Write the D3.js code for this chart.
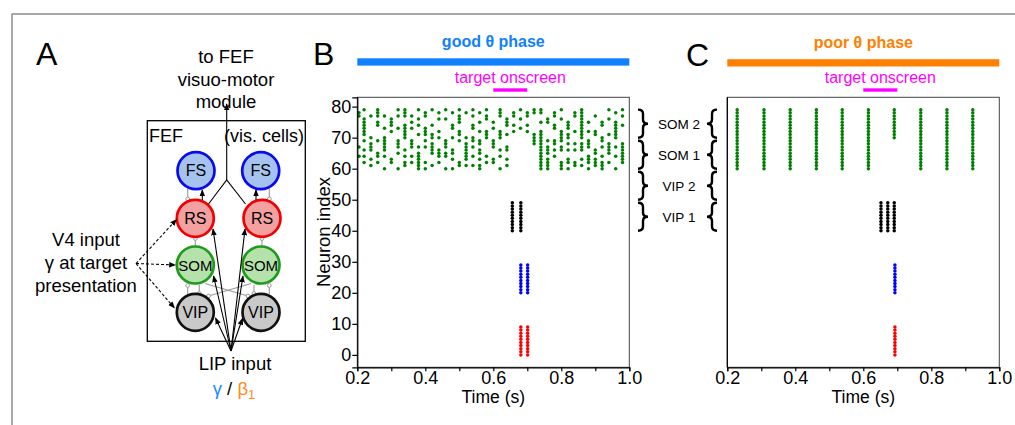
<!DOCTYPE html>
<html><head><meta charset="utf-8">
<script src="https://cdn.jsdelivr.net/npm/d3@7"></script>
<style>
body{margin:0;background:#fff}
svg{display:block}
text{font-family:"Liberation Sans",Arial,sans-serif}
</style>
</head><body>
<svg id="fig" width="1015" height="425"></svg>
<script>
// ---------------- DATA ----------------
const timeDomain = [0.2, 1.0];
const neuronDomain = [-4, 83];
const xTicks = [0.2, 0.3, 0.4, 0.5, 0.6, 0.7, 0.8, 0.9, 1.0];
const xTickLabels = ["0.2", "", "0.4", "", "0.6", "", "0.8", "", "1.0"];
const yTicks = [0, 10, 20, 30, 40, 50, 60, 70, 80];
const yTickLabels = ["0", "10", "20", "30", "40", "50", "60", "70", "80"];
const targetOn = [0.6, 0.7];

// panel B (good theta phase): SOM spikes, one column per time, cells as ranges
const somGoodTimes = [0.205, 0.22, 0.24, 0.26, 0.28, 0.30, 0.32, 0.34, 0.36, 0.38,
  0.40, 0.42, 0.44, 0.46, 0.48, 0.50, 0.52, 0.54, 0.56, 0.58,
  0.60, 0.62, 0.64, 0.66, 0.68, 0.70, 0.72, 0.74, 0.76, 0.78,
  0.80, 0.82, 0.84, 0.86, 0.88, 0.90, 0.92, 0.94, 0.96, 0.98];
const somGoodCells = [
  "78-77 67 64", "79 76-71 69 66 64 62", "77 70 68-66 63 61", "79-77 75-74 69 65-64 62",
  "77 73 70-66 64 60", "76-74 72 63-62", "79 77 73 69-67 65 60", "79-77 74-70 66 64 62-61",
  "77 75 73 69-67 64 62", "79 76 74 71 67 65-60", "78-77 73-71 69 67 62 60", "79 74 71-70 68-65 61",
  "78 76 72 70 66-64 62", "79 76 69-67 65-64 60", "78 74-73 70 66-65 63 60", "79 77-75 72-71 69 62-61",
  "78 70 68-63 61", "79 77 74-73 70-69 67 64 61", "78 75 72 69-68 66-65 63 61-60", "79 77-76 72-70 64 62",
  "75 73 69-67 63-62", "79-77 72-70 66 64 60", "76-74 71 67-66 63 61", "78-77 74 72",
  "79 76 73", "78-77 74 72", "79-78 71-68", "79-78 75 72-60",
  "76-75 69 67-65 63-60", "78-77 74-73 69-68 66 64", "79 76 72-69 67-66 62-60", "75-73 71-70 68 66 63-62 60",
  "78-77 72 68 66 62-61", "79-70 68-66 63 61", "75 72 69-67 64-62 60", "77 72-71 66-65 63-61",
  "75-74 70-69 67 64 62-60", "79 76 71 68-65 62", "78 75-70 67 64 60", "79 77 74 68-62"
];
const vipGoodTimes = [0.656, 0.681];
const fsGoodTimes = [0.681, 0.701];
const rsGoodTimes = [0.681, 0.701];

// panel C (poor theta phase)
const somPoorTimes = [0.229, 0.308, 0.385, 0.462, 0.538, 0.615, 0.691, 0.769, 0.846, 0.922];
const somPoorCells = ["79-60", "79-60", "79-60", "79-60", "79-60", "79-60", "79-70", "79-60", "79-60", "79-60"];
const vipPoorTimes = [0.652, 0.672, 0.691];
const fsPoorTimes = [0.693];
const rsPoorTimes = [0.693];

const vipCells = "49-40";
const fsCells = "29-20";
const rsCells = "9-0";

const groupLabels = ["SOM 2", "SOM 1", "VIP 2", "VIP 1"];
const groupRanges = [[70, 79], [60, 69], [50, 59], [40, 49]];

// ---------------- DRAW ----------------
const svg = d3.select("#fig");
const FONT = '"Liberation Sans",Arial,sans-serif';

function cells(spec) {
  const out = [];
  spec.split(" ").forEach(tok => {
    const p = tok.split("-").map(Number);
    if (p.length === 1) out.push(p[0]);
    else for (let n = Math.min(p[0], p[1]); n <= Math.max(p[0], p[1]); n++) out.push(n);
  });
  return out;
}

// outer frame
svg.append("path").attr("d", "M12,425 L12,14 L1015,14")
  .attr("fill", "none").attr("stroke", "#8c8c8c").attr("stroke-width", 1.5);

// markers
const defs = svg.append("defs");
defs.append("marker").attr("id", "arr").attr("viewBox", "0 0 10 10")
  .attr("refX", 9).attr("refY", 5).attr("markerWidth", 7).attr("markerHeight", 7)
  .attr("markerUnits", "userSpaceOnUse").attr("orient", "auto")
  .append("path").attr("d", "M0,1 L10,5 L0,9 Z").attr("fill", "#000");

// panel letters
[["A", 36, 65], ["B", 313, 65], ["C", 686, 66]].forEach(([t, x, y]) => {
  svg.append("text").attr("x", x).attr("y", y).attr("font-size", 32).text(t);
});

// ---------- Panel A diagram ----------
const A = svg.append("g");
const fs18 = 18.5;
[["to FEF", 63], ["visuo-motor", 85.5], ["module", 107.5]].forEach(([t, y]) =>
  A.append("text").attr("x", 226).attr("y", y).attr("text-anchor", "middle").attr("font-size", fs18).text(t));
[["V4 input", 246], ["γ at target", 269], ["presentation", 291.5]].forEach(([t, y]) =>
  A.append("text").attr("x", 86).attr("y", y).attr("text-anchor", "middle").attr("font-size", fs18).text(t));
A.append("text").attr("x", 235).attr("y", 370).attr("text-anchor", "middle").attr("font-size", fs18).text("LIP input");
const gb = A.append("text").attr("x", 234).attr("y", 395).attr("text-anchor", "middle").attr("font-size", fs18);
gb.append("tspan").attr("fill", "#1a8cff").text("γ");
gb.append("tspan").attr("fill", "#000").text(" / ");
gb.append("tspan").attr("fill", "#ff8c1a").text("β");
gb.append("tspan").attr("fill", "#ff8c1a").attr("font-size", 13).attr("dy", 4).text("1");

A.append("rect").attr("x", 147.3).attr("y", 120.7).attr("width", 158).attr("height", 220.6)
  .attr("fill", "none").attr("stroke", "#000").attr("stroke-width", 1.3);
A.append("text").attr("x", 149).attr("y", 142).attr("font-size", 18).text("FEF");
A.append("text").attr("x", 304).attr("y", 142).attr("text-anchor", "end").attr("font-size", 18).text("(vis. cells)");

// inhibitory (gray) connections
const inh = [
  [187.7, 188.5, 187.7, 199], [269.3, 188.5, 269.3, 199],
  [195.3, 246, 195.3, 238.5], [262, 246, 262, 238.5],
  [187.7, 294, 187.7, 285.5], [199.3, 285, 199.3, 293.5],
  [269.3, 294, 269.3, 285.5], [254, 285, 254, 293.5],
  [205, 283.5, 248, 296], [251, 283.5, 208.5, 296]
];
inh.forEach(([x1, y1, x2, y2]) => {
  A.append("line").attr("x1", x1).attr("y1", y1).attr("x2", x2).attr("y2", y2)
    .attr("stroke", "#9a9a9a").attr("stroke-width", 1.1);
  A.append("circle").attr("cx", x2).attr("cy", y2).attr("r", 1.9)
    .attr("fill", "#fff").attr("stroke", "#9a9a9a").attr("stroke-width", 1);
});

// cells
const cellSpec = [
  ["FS", 196, 170.7, "#a6c3ef", "#0a0aee"], ["FS", 260.7, 170.7, "#a6c3ef", "#0a0aee"],
  ["RS", 195.3, 218.3, "#f2a0a0", "#f00000"], ["RS", 262, 218.3, "#f2a0a0", "#f00000"],
  ["SOM", 195.3, 265, "#b5e2ab", "#1e9b1e"], ["SOM", 261, 265, "#b5e2ab", "#1e9b1e"],
  ["VIP", 195.3, 312.3, "#c9c9c9", "#111111"], ["VIP", 261, 312.3, "#c9c9c9", "#111111"]
];
cellSpec.forEach(([t, cx, cy, f, s]) => {
  A.append("circle").attr("cx", cx).attr("cy", cy).attr("r", 18.5)
    .attr("fill", f).attr("stroke", s).attr("stroke-width", 2.7);
  A.append("text").attr("x", cx).attr("y", cy + 5.5).attr("text-anchor", "middle")
    .attr("font-size", t === "SOM" ? 15 : 16).text(t);
});

// excitatory arrows
function arrow(x1, y1, x2, y2, dashed) {
  const l = A.append("line").attr("x1", x1).attr("y1", y1).attr("x2", x2).attr("y2", y2)
    .attr("stroke", "#000").attr("stroke-width", 1.1).attr("marker-end", "url(#arr)");
  if (dashed) l.attr("stroke-dasharray", "3,2");
}
// output
A.append("path").attr("d", "M208.5,204 L226.7,180 L245.5,204").attr("fill", "none")
  .attr("stroke", "#000").attr("stroke-width", 1.1);
arrow(226.7, 180, 226.7, 104);
arrow(202.3, 200, 202.3, 190);
arrow(256, 200, 256, 190);
// LIP
[[213, 229], [213.5, 276], [215.5, 318], [245, 229], [243, 276], [242.5, 318.5]].forEach(([x, y]) =>
  arrow(231, 351, x, y));
// V4
[[176.5, 219.5], [175.5, 265], [174.5, 308]].forEach(([x, y]) => arrow(136, 263.5, x, y, true));

// ---------- Raster panels ----------
const y = d3.scaleLinear().domain(neuronDomain).range([367.3, 97.3]);

function panel(x0, x1, opts) {
  const x = d3.scaleLinear().domain(timeDomain).range([x0, x1]);
  const g = svg.append("g");
  // header bar
  g.append("rect").attr("x", x(timeDomain[0])).attr("width", x(timeDomain[1]) - x(timeDomain[0]))
    .attr("y", opts.barY).attr("height", 7.3).attr("fill", opts.color);
  g.append("text").attr("x", x(0.6)).attr("y", opts.barY - 11).attr("text-anchor", "middle")
    .attr("font-size", 16).attr("font-weight", "bold").attr("fill", opts.color).text(opts.title);
  g.append("text").attr("x", x((targetOn[0] + targetOn[1]) / 2)).attr("y", 83)
    .attr("text-anchor", "middle").attr("font-size", 16).attr("fill", "#ff00ff").text("target onscreen");
  g.append("rect").attr("x", x(targetOn[0])).attr("width", x(targetOn[1]) - x(targetOn[0]))
    .attr("y", 88.3).attr("height", 3.4).attr("fill", "#ff00ff");
  // box
  g.append("rect").attr("x", x0).attr("y", 97.3).attr("width", x1 - x0).attr("height", 270)
    .attr("fill", "none").attr("stroke", "#444").attr("stroke-width", 1);
  // spikes
  const spikes = [];
  opts.groups.forEach(gr => gr.times.forEach((t, i) => {
    const spec = Array.isArray(gr.cells) ? gr.cells[i] : gr.cells;
    cells(spec).forEach(n => spikes.push({ t, n, c: gr.color }));
  }));
  g.append("g").selectAll("circle").data(spikes).join("circle")
    .attr("cx", d => x(d.t)).attr("cy", d => y(d.n)).attr("r", 1.75).attr("fill", d => d.c);
  // x axis
  const ax = g.append("g").attr("transform", "translate(0,367.3)")
    .call(d3.axisBottom(x).tickValues(xTicks).tickSize(4).tickPadding(0)
      .tickFormat((d, i) => xTickLabels[i]));
  ax.attr("font-family", FONT).attr("font-size", 18);
  ax.selectAll("path,line").attr("stroke", "#000").attr("stroke-width", 1.2);
  ax.selectAll("text").attr("fill", "#000");
  g.append("text").attr("x", x(0.6)).attr("y", 403).attr("text-anchor", "middle")
    .attr("font-size", 17.5).text("Time (s)");
  // y axis
  if (opts.yAxis) {
    const ay = g.append("g").attr("transform", `translate(${x0},0)`)
      .call(d3.axisLeft(y).tickValues(yTicks).tickSize(5).tickPadding(1)
        .tickFormat((d, i) => yTickLabels[i]));
    ay.attr("font-family", FONT).attr("font-size", 18);
    ay.selectAll("path,line").attr("stroke", "#000").attr("stroke-width", 1.2);
    ay.selectAll("text").attr("fill", "#000");
    g.append("text").attr("transform", `translate(329.5,232) rotate(-90)`)
      .attr("text-anchor", "middle").attr("font-size", 18.5).text("Neuron index");
  } else {
    g.append("line").attr("x1", x0).attr("x2", x0).attr("y1", 97.3).attr("y2", 367.3)
      .attr("stroke", "#000").attr("stroke-width", 1.2);
  }
}

panel(357.3, 629.3, {
  color: "#1080ff", title: "good θ phase", barY: 58.3, yAxis: true,
  groups: [
    { times: somGoodTimes, cells: somGoodCells, color: "#008000" },
    { times: vipGoodTimes, cells: vipCells, color: "#000000" },
    { times: fsGoodTimes, cells: fsCells, color: "#0000ff" },
    { times: rsGoodTimes, cells: rsCells, color: "#ff0000" }
  ]
});
panel(727.3, 999.3, {
  color: "#ff8000", title: "poor θ phase", barY: 59.2, yAxis: false,
  groups: [
    { times: somPoorTimes, cells: somPoorCells, color: "#008000" },
    { times: vipPoorTimes, cells: vipCells, color: "#000000" },
    { times: fsPoorTimes, cells: fsCells, color: "#0000ff" },
    { times: rsPoorTimes, cells: rsCells, color: "#ff0000" }
  ]
});

// ---------- group braces ----------
function brace(xs, y0, y1, w, dir) {
  const ym = (y0 + y1) / 2, q = w * dir;
  const a = (ym - y0) * 0.3;
  return `M${xs - q / 2},${y0} Q${xs},${y0} ${xs},${y0 + a} L${xs},${ym - a} Q${xs},${ym} ${xs + q / 2},${ym}` +
    ` Q${xs},${ym} ${xs},${ym + a} L${xs},${y1 - a} Q${xs},${y1} ${xs - q / 2},${y1}`;
}
groupLabels.forEach((lab, i) => {
  const [lo, hi] = groupRanges[i];
  const y0 = y(hi + 0.5) + 1.5, y1 = y(lo - 0.5) - 1.5;
  svg.append("path").attr("d", brace(643, y0, y1, 10, 1)).attr("fill", "none")
    .attr("stroke", "#000").attr("stroke-width", 2.4);
  svg.append("path").attr("d", brace(712, y0, y1, 10, -1)).attr("fill", "none")
    .attr("stroke", "#000").attr("stroke-width", 2.4);
  svg.append("text").attr("x", 679).attr("y", (y0 + y1) / 2 + 5).attr("text-anchor", "middle")
    .attr("font-size", 13.5).text(lab);
});
</script>
</body></html>
